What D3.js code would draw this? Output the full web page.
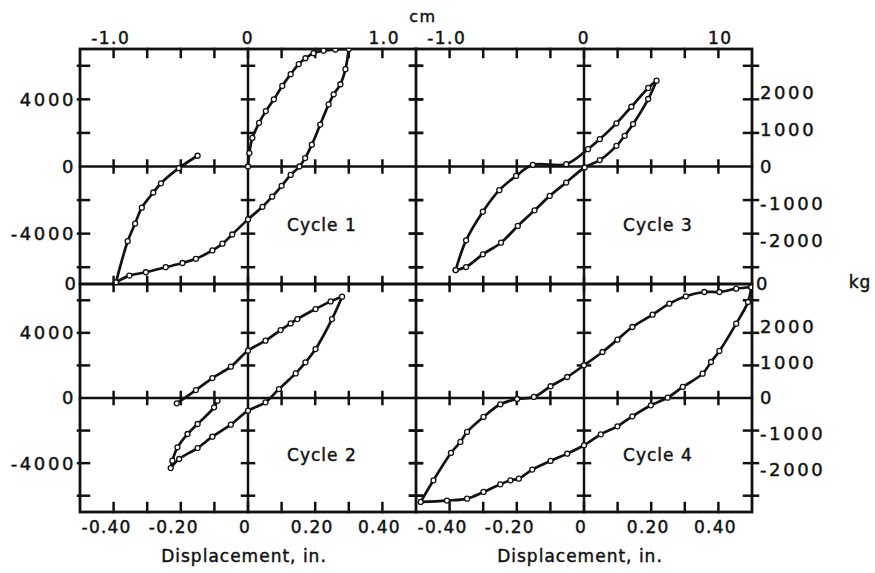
<!DOCTYPE html>
<html>
<head>
<meta charset="utf-8">
<script src="https://cdn.jsdelivr.net/npm/d3@7"></script>
<style>
  html, body { margin: 0; background: #fff; }
  text { font-family: "DejaVu Sans", sans-serif; fill: #111; stroke: #111; stroke-width: 0.45px; }
</style>
</head>
<body>
<svg id="chart" width="875" height="573"></svg>
<script>
// Load (lb) against displacement (in.) for four loading cycles.
const cycle1X = [0, 0.004, 0.013, 0.033, 0.053, 0.077, 0.102, 0.127, 0.151, 0.171, 0.195, 0.225, 0.26, 0.30,
                 0.29, 0.275, 0.255, 0.24, 0.215, 0.19, 0.17, 0.153, 0.127, 0.10, 0.072, 0.043, 0, -0.047, -0.076,
                 -0.106, -0.155, -0.195, -0.245, -0.304, -0.353, -0.393,
                 -0.358, -0.336, -0.316, -0.282, -0.259, -0.206, -0.15];
const cycle1Y = [0, 800, 1700, 2600, 3300, 4000, 4800, 5500, 6100, 6450, 6750, 6900, 6970, 7000,
                 5800, 4900, 4300, 3700, 2500, 1300, 500, 0, -500, -1150, -1800, -2400, -3150, -4050, -4600,
                 -5000, -5500, -5750, -6000, -6300, -6500, -6900,
                 -4450, -3400, -2450, -1550, -1000, -100, 640];

const cycle2X = [-0.091, -0.101, -0.150, -0.180, -0.210, -0.225, -0.230,
                 -0.205, -0.150, -0.106, -0.051, 0, 0.052, 0.092, 0.142, 0.171, 0.201, 0.250, 0.280,
                 0.246, 0.201, 0.147, 0.127, 0.097, 0.052, 0, -0.051, -0.106, -0.155, -0.212];
const cycle2Y = [-166, -575, -1598, -2212, -3031, -3850, -4300,
                 -3747, -3072, -2376, -1639, -780, -268, 551, 1512, 2188, 3007, 4849, 6220,
                 5933, 5463, 4849, 4582, 4173, 3518, 2904, 1922, 1226, 489, -330];

const cycle3X = [-0.382, -0.351, -0.301, -0.247, -0.197, -0.147, -0.102, -0.053, 0.002, 0.047, 0.0965, 0.121,
                 0.146, 0.191, 0.216,
                 0.191, 0.141, 0.0965, 0.047, 0.012, -0.053, -0.152, -0.202, -0.252, -0.301, -0.351, -0.382];
const cycle3Y = [-6170, -5990, -5230, -4540, -3540, -2610, -1750, -955, -60, 380, 1230, 1830,
                 2530, 4020, 5114,
                 4680, 3560, 2570, 1630, 1035, 140, 100, -560, -1410, -2690, -4400, -6170];

const cycle4X = [0.498, 0.453, 0.403, 0.358, 0.303, 0.254, 0.204, 0.144, 0.0995, 0.055, 0, -0.05, -0.0995,
                 -0.149, -0.199, -0.249, -0.299, -0.348, -0.368, -0.396, -0.448, -0.486,
                 -0.408, -0.348, -0.299, -0.249, -0.219, -0.194, -0.154, -0.0995, -0.05, 0, 0.05, 0.0995,
                 0.144, 0.199, 0.249, 0.294, 0.353, 0.378, 0.403, 0.453, 0.488, 0.498];
const cycle4Y = [6800, 6715, 6510, 6510, 6245, 5794, 5119, 4361, 3584, 2826, 2008, 1291, 720,
                 63, -60, -387, -1165, -2086, -2700, -3375, -5053, -6380,
                 -6300, -6179, -5770, -5299, -5053, -4951, -4398, -3866, -3416, -2904, -2229, -1738,
                 -1124, -448, 23, 677, 1496, 2212, 2888, 4566, 5896, 6800];

const cycleNames = ["Cycle 1", "Cycle 2", "Cycle 3", "Cycle 4"];

// Axis ticks and labels
const inchTicks = [-0.4, -0.3, -0.2, -0.1, 0, 0.1, 0.2, 0.3, 0.4];
const inchLabelValues = [-0.4, -0.2, 0, 0.2, 0.4];
const inchLabels = ["-0.40", "-0.20", "0", "0.20", "0.40"];
const lbTicks = [-6000, -4000, -2000, 0, 2000, 4000, 6000];
const lbLabelValues = [4000, 0, -4000];
const lbLabels = ["4000", "0", "-4000"];
const kgLabelValues = [2000, 1000, 0, -1000, -2000];
const kgLabels = ["2000", "1000", "0", "-1000", "-2000"];
const cmLabelValues = [-1.0, 0, 1.0];
const cmLabelsLeft = ["-1.0", "0", "1.0"];
const cmLabelsRight = ["-1.0", "0", "10"];

const LB_PER_KG = 2.20462;
const IN_PER_CM = 1 / 2.54;

const svg = d3.select("#chart");
const ink = "#111";

// panel grid: two columns, two rows sharing borders
const colX = [[80, 416], [416, 752]];
const rowY = [[49, 284], [284, 512]];

const panels = [
  { xs: cycle1X, ys: cycle1Y, name: cycleNames[0], col: 0, row: 0 },
  { xs: cycle3X, ys: cycle3Y, name: cycleNames[2], col: 1, row: 0 },
  { xs: cycle2X, ys: cycle2Y, name: cycleNames[1], col: 0, row: 1 },
  { xs: cycle4X, ys: cycle4Y, name: cycleNames[3], col: 1, row: 1 }
];

const xScales = colX.map(r => d3.scaleLinear().domain([-0.5, 0.5]).range(r));
const yScales = rowY.map(r => d3.scaleLinear().domain([-7000, 7000]).range([r[1], r[0]]));

const seg = (g, x1, y1, x2, y2, w) =>
  g.append("line").attr("x1", x1).attr("y1", y1).attr("x2", x2).attr("y2", y2)
    .attr("stroke", ink).attr("stroke-width", w).attr("stroke-linecap", "square");

const frame = svg.append("g");

// outer frame and dividers
frame.append("rect")
  .attr("x", colX[0][0]).attr("y", rowY[0][0])
  .attr("width", colX[1][1] - colX[0][0]).attr("height", rowY[1][1] - rowY[0][0])
  .attr("fill", "none").attr("stroke", ink).attr("stroke-width", 2.8);
seg(frame, colX[0][1], rowY[0][0], colX[0][1], rowY[1][1], 2.8);
seg(frame, colX[0][0], rowY[0][1], colX[1][1], rowY[0][1], 2.8);

panels.forEach(p => {
  const x = xScales[p.col], y = yScales[p.row];
  const g = svg.append("g");
  const [x0, x1] = colX[p.col];
  const [yt, yb] = rowY[p.row];

  // zero axes
  seg(g, x0, y(0), x1, y(0), 2.5);
  seg(g, x(0), yt, x(0), yb, 2.5);

  // displacement ticks: top edge, bottom edge, zero line
  inchTicks.forEach(v => {
    const px = x(v);
    if (p.row === 0) seg(g, px, yt, px, yt + 8, 2.5);
    else seg(g, px, yt - 1, px, yt + 7, 2.5);
    if (p.row === 1) seg(g, px, yb - 9, px, yb, 2.5);
    else seg(g, px, yb - 7, px, yb + 1, 2.5);
    if (v !== 0) seg(g, px, y(0) - 6, px, y(0) + 6, 2.5);
  });

  // load ticks: left edge, right edge, zero line
  lbTicks.forEach(v => {
    if (v === 0) return;
    const py = y(v);
    if (p.col === 0) seg(g, x0 - 2, py, x0 + 9, py, 2.5);
    else seg(g, x0 - 6, py, x0 + 6, py, 2.5);
    if (p.col === 1) seg(g, x1 - 8, py, x1 + 6, py, 2.5);
    else seg(g, x1 - 6, py, x1 + 6, py, 2.5);
    seg(g, x(0) - 6, py, x(0) + 6, py, 2.5);
  });

  // loop curve, split into branches where the displacement reverses
  const pts = p.xs.map((v, i) => [v, p.ys[i]]);
  const branches = [];
  let cur = [pts[0]];
  for (let i = 1; i < pts.length; i++) {
    cur.push(pts[i]);
    if (i < pts.length - 1) {
      const d1 = Math.sign(pts[i][0] - pts[i - 1][0]);
      const d2 = Math.sign(pts[i + 1][0] - pts[i][0]);
      if (d1 !== 0 && d2 !== 0 && d1 !== d2) { branches.push(cur); cur = [pts[i]]; }
    }
  }
  branches.push(cur);

  const clipId = "clip" + p.col + p.row;
  svg.append("clipPath").attr("id", clipId)
    .append("rect").attr("x", x0).attr("y", yt).attr("width", x1 - x0).attr("height", yb - yt);

  const line = d3.line().x(d => x(d[0])).y(d => y(d[1])).curve(d3.curveCatmullRom.alpha(0.5));
  const cg = svg.append("g").attr("clip-path", `url(#${clipId})`);
  branches.forEach(b => {
    cg.append("path").attr("d", line(b)).attr("fill", "none")
      .attr("stroke", ink).attr("stroke-width", 2.7).attr("stroke-linejoin", "round");
  });
  cg.selectAll("circle").data(pts).join("circle")
    .attr("cx", d => x(d[0])).attr("cy", d => y(d[1])).attr("r", 2.5)
    .attr("fill", "#fff").attr("stroke", ink).attr("stroke-width", 1.3);

  // cycle name
  g.append("text").attr("x", x(0.22)).attr("y", y(-3500)).attr("dy", "0.36em")
    .attr("text-anchor", "middle").attr("font-size", 17).attr("letter-spacing", 1)
    .text(p.name);

  // load labels (lb) on the left, kg on the right
  if (p.col === 0) {
    lbLabelValues.forEach((v, i) => {
      g.append("text").attr("x", 76).attr("y", y(v)).attr("dy", "0.36em")
        .attr("text-anchor", "end").attr("font-size", 18).attr("letter-spacing", 2.6)
        .text(lbLabels[i]);
    });
  } else {
    kgLabelValues.forEach((v, i) => {
      g.append("text").attr("x", 760).attr("y", y(v * LB_PER_KG)).attr("dy", "0.36em")
        .attr("text-anchor", "start").attr("font-size", 18).attr("letter-spacing", 2.6)
        .text(kgLabels[i]);
    });
  }

  // displacement labels along the bottom
  if (p.row === 1) {
    inchLabelValues.forEach((v, i) => {
      g.append("text").attr("x", x(v) + (v < 0 ? -7 : -3)).attr("y", 533)
        .attr("text-anchor", "middle").attr("font-size", 17).attr("letter-spacing", 1.2)
        .text(inchLabels[i]);
    });
    g.append("text").attr("x", (x0 + x1) / 2 - 4).attr("y", 562)
      .attr("text-anchor", "middle").attr("font-size", 17).attr("letter-spacing", 1)
      .text("Displacement, in.");
  } else {
    const labels = p.col === 0 ? cmLabelsLeft : cmLabelsRight;
    cmLabelValues.forEach((v, i) => {
      g.append("text").attr("x", x(v * IN_PER_CM) + (v < 0 ? -5 : v > 0 ? 4 : 0)).attr("y", 44)
        .attr("text-anchor", "middle").attr("font-size", 17).attr("letter-spacing", 1.5)
        .text(labels[i]);
    });
  }
});

// zero marks on the shared edge between the rows
svg.append("text").attr("x", 76).attr("y", rowY[0][1]).attr("dy", "0.36em")
  .attr("text-anchor", "end").attr("font-size", 18).text("0");
svg.append("text").attr("x", 756).attr("y", rowY[0][1]).attr("dy", "0.36em")
  .attr("text-anchor", "start").attr("font-size", 18).text("0");

// unit captions
svg.append("text").attr("x", 423).attr("y", 22).attr("text-anchor", "middle")
  .attr("font-size", 16).attr("letter-spacing", 1.5).text("cm");
svg.append("text").attr("x", 860).attr("y", 288).attr("text-anchor", "middle")
  .attr("font-size", 17).attr("letter-spacing", 1).text("kg");
</script>
</body>
</html>
